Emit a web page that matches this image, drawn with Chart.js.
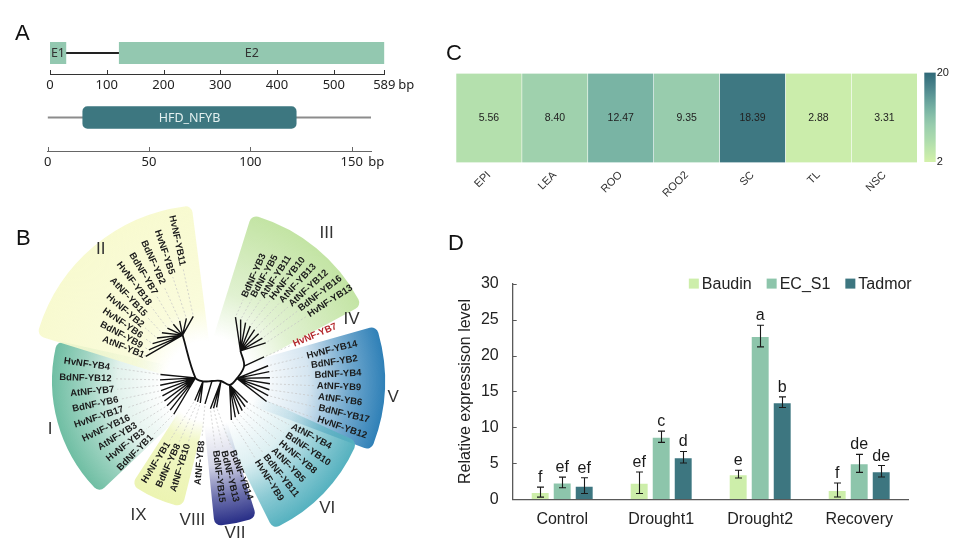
<!DOCTYPE html>
<html>
<head>
<meta charset="utf-8">
<title>NF-YB figure</title>
<script src="https://cdn.jsdelivr.net/npm/chart.js@4.4.1/dist/chart.umd.min.js"></script>
<style>
  html, body { margin: 0; padding: 0; background: #fff; }
  #fig { position: relative; width: 966px; height: 546px; overflow: hidden; font-family: 'Liberation Sans', Arial, sans-serif; }
  .panel { position: absolute; }
  .tag { position: absolute; font-size: 22px; line-height: 22px; color: #111; }
</style>
</head>
<body>
<div id="fig">
  <div class="panel" style="left:0;top:200px;width:440px;height:346px"><canvas id="treeChart"></canvas></div>
  <div class="panel" style="left:0;top:30px;width:430px;height:65px"><canvas id="geneChart"></canvas></div>
  <div class="panel" style="left:0;top:80px;width:430px;height:92px"><canvas id="protChart"></canvas></div>
  <div class="panel" style="left:440px;top:60px;width:490px;height:150px"><canvas id="heatChart"></canvas></div>
  <div class="panel" style="left:910px;top:60px;width:56px;height:115px"><canvas id="scaleBar"></canvas></div>
  <div class="panel" style="left:440px;top:260px;width:526px;height:286px"><canvas id="exprChart"></canvas></div>
  <div class="tag" style="left:15px;top:22px">A</div>
  <div class="tag" style="left:16px;top:227px">B</div>
  <div class="tag" style="left:446px;top:42px">C</div>
  <div class="tag" style="left:448px;top:232px">D</div>
</div>
<script>
// ---- datos ----
// A: estructura del gen y proteína
const geneTicks = [0, 100, 200, 300, 400, 500, 589];
const exon1 = [0, 28];
const intron1 = [28, 122];
const exon2 = [122, 589];
const exonNames = ['E1', 'E2'];
const protTicks = [0, 50, 100, 150];
const protein = [0, 159.5];
const hfdDomain = [17.3, 122.6];
const domainName = 'HFD_NFYB';

// B: clados del árbol
const cladeI = ['HvNF-YB4', 'BdNF-YB12', 'AtNF-YB7', 'BdNF-YB6', 'HvNF-YB17', 'HvNF-YB16', 'AtNF-YB3', 'HvNF-YB3', 'BdNF-YB1'];
const cladeII = ['HvNF-YB11', 'HvNF-YB5', 'BdNF-YB2', 'BdNF-YB7', 'HvNF-YB18', 'AtNF-YB15', 'HvNF-YB2', 'HvNF-YB6', 'BdNF-YB9', 'AtNF-YB1'];
const cladeIII = ['HvNF-YB13', 'BdNF-YB16', 'AtNF-YB12', 'AtNF-YB13', 'HvNF-YB10', 'AtNF-YB11', 'BdNF-YB5', 'BdNF-YB3'];
const cladeIV = ['HvNF-YB7'];
const cladeV = ['HvNF-YB12', 'BdNF-YB17', 'AtNF-YB6', 'AtNF-YB9', 'BdNF-YB4', 'BdNF-YB2', 'HvNF-YB14'];
const cladeVI = ['HvNF-YB9', 'BdNF-YB11', 'AtNF-YB5', 'HvNF-YB8', 'BdNF-YB10', 'AtNF-YB4'];
const cladeVII = ['BdNF-YB15', 'BdNF-YB13', 'BdNF-YB14'];
const cladeVIII = ['AtNF-YB8'];
const cladeIX = ['HvNF-YB1', 'BdNF-YB8', 'AtNF-YB10'];
const highlightLeaf = 'HvNF-YB7';

// C: expresión por tejido
const tissues = ['EPI', 'LEA', 'ROO', 'ROO2', 'SC', 'TL', 'NSC'];
const tissueExpr = [5.56, 8.40, 12.47, 9.35, 18.39, 2.88, 3.31];
const scaleTicks = [2, 20];

// D: expresión relativa bajo sequía
const conditions = ['Control', 'Drought1', 'Drought2', 'Recovery'];
const baudin = [1.0, 2.3, 3.5, 1.3];
const baudinErr = [0.7, 1.5, 0.53, 0.97];
const baudinSig = ['f', 'ef', 'e', 'f'];
const ecS1 = [2.35, 8.7, 22.7, 5.0];
const ecS1Err = [0.74, 0.78, 1.5, 1.25];
const ecS1Sig = ['ef', 'c', 'a', 'de'];
const tadmor = [1.9, 5.85, 13.5, 3.9];
const tadmorErr = [1.1, 0.8, 0.74, 0.8];
const tadmorSig = ['ef', 'd', 'b', 'de'];
const exprTicks = [0, 5, 10, 15, 20, 25, 30];

// ---- estilos ----
const FONT = "'Liberation Sans', Arial, sans-serif";
const FONT_A = "'Noto Sans', 'Liberation Sans', sans-serif";
const heatStops = [[2, '#d3f1aa'], [6, '#b0dead'], [10, '#93c9ad'], [13, '#74b0a2'], [16, '#558f92'], [20, '#2f6878']];

Chart.defaults.font.family = FONT;
Chart.defaults.color = '#222';
Chart.defaults.animation = false;
Chart.defaults.maintainAspectRatio = false;
Chart.defaults.plugins.legend.display = false;
Chart.defaults.plugins.tooltip.enabled = false;

function hexRgb(h) {
  return [1, 3, 5].map(i => parseInt(h.slice(i, i + 2), 16));
}
function heatColor(v) {
  for (let k = 1; k < heatStops.length; k++) {
    const [v0, c0] = heatStops[k - 1], [v1, c1] = heatStops[k];
    if (v <= v1 || k === heatStops.length - 1) {
      const t = Math.max(0, Math.min(1, (v - v0) / (v1 - v0)));
      const a = hexRgb(c0), b = hexRgb(c1);
      return 'rgb(' + a.map((x, i) => Math.round(x + (b[i] - x) * t)).join(',') + ')';
    }
  }
}
function rgba(hex, a) {
  return 'rgba(' + hexRgb(hex).join(',') + ',' + a + ')';
}

// ===== Panel A =====
const axisDecor = {
  id: 'axisDecor',
  afterDraw(chart, args, opts) {
    const x = chart.scales.x, ctx = chart.ctx;
    ctx.save();
    ctx.strokeStyle = opts.axisColor;
    ctx.lineWidth = 1;
    x.ticks.forEach(t => {
      const px = Math.round(x.getPixelForValue(t.value)) + 0.5;
      ctx.beginPath(); ctx.moveTo(px, x.top); ctx.lineTo(px, x.top - 4); ctx.stroke();
    });
    ctx.fillStyle = '#222';
    ctx.font = '13px ' + FONT_A;
    ctx.textBaseline = 'middle';
    ctx.textAlign = 'left';
    ctx.fillText('bp', x.getPixelForValue(opts.lastTick) + opts.unitGap, x.top + 11);
    ctx.textAlign = 'center';
    opts.boxLabels.forEach(b => {
      const el = chart.getDatasetMeta(b.ds).data[0];
      ctx.fillStyle = b.color;
      ctx.font = '12.5px ' + FONT_A;
      ctx.fillText(b.text, (el.x + el.base) / 2, el.y + 0.5);
    });
    ctx.restore();
  }
};

function aAxis(max, ticks, color) {
  return {
    type: 'linear', min: 0, max: max,
    grid: { display: false, drawTicks: false },
    border: { display: true, color: color, width: 1 },
    ticks: { autoSkip: false, maxRotation: 0, padding: 3, color: '#222', font: { family: FONT_A, size: 13 } },
    afterBuildTicks: s => { s.ticks = ticks.map(v => ({ value: v })); },
    afterFit: s => { s.height = 21; }
  };
}

new Chart(document.getElementById('geneChart'), {
  type: 'bar',
  data: {
    labels: ['gene'],
    datasets: [
      { label: exonNames[0], data: [exon1], backgroundColor: '#93c8b0', barThickness: 21.3, grouped: false, order: 1 },
      { label: exonNames[1], data: [exon2], backgroundColor: '#93c8b0', barThickness: 21.3, grouped: false, order: 1 },
      { label: 'intron', data: [intron1], backgroundColor: '#222', barThickness: 1.4, grouped: false, order: 2 }
    ]
  },
  options: {
    indexAxis: 'y',
    layout: { padding: { left: 50, right: 45.7, top: 2, bottom: 0 } },
    scales: { x: aAxis(589, geneTicks, '#333'), y: { display: false } },
    plugins: {
      axisDecor: { axisColor: '#333', lastTick: 589, unitGap: 14,
        boxLabels: [{ ds: 0, text: exonNames[0], color: '#333' }, { ds: 1, text: exonNames[1], color: '#333' }] }
    }
  },
  plugins: [axisDecor]
});

new Chart(document.getElementById('protChart'), {
  type: 'bar',
  data: {
    labels: ['protein'],
    datasets: [
      { label: domainName, data: [hfdDomain], backgroundColor: '#3d7780', barThickness: 21.6, borderRadius: 5, borderSkipped: false, grouped: false, order: 1 },
      { label: 'protein', data: [protein], backgroundColor: '#8c8c8c', barThickness: 1.5, grouped: false, order: 2 }
    ]
  },
  options: {
    indexAxis: 'y',
    layout: { padding: { left: 47.7, right: 59, top: 4, bottom: 0 } },
    scales: { x: aAxis(159.5, protTicks, '#666'), y: { display: false } },
    plugins: {
      axisDecor: { axisColor: '#666', lastTick: 150, unitGap: 16.6,
        boxLabels: [{ ds: 0, text: domainName, color: '#e3f0ef' }] }
    }
  },
  plugins: [axisDecor]
});

// ===== Panel B =====
const cladeLeaves = { I: cladeI, II: cladeII, III: cladeIII, IV: cladeIV, V: cladeV, VI: cladeVI, VII: cladeVII, VIII: cladeVIII, IX: cladeIX };
const backboneOrder = ['II', 'I', 'IX', 'VIII', 'VII', 'VI', 'V', 'IV', 'III'];
// ángulos (grados) de las hojas, nodo del clado [ángulo, radio], radio de punta y de etiqueta
const treeLayout = {
  I:    { a0: 172, a1: 225, node: [165, 12], tip: 47, lab0: 98, lab1: 78 },
  II:   { a0: 102, a1: 158, node: [118, 52], tip: 66, lab0: 118, lab1: 68 },
  III:  { a0: 33,  a1: 66,  node: [42, 45],  tip: 70, lab0: 121, lab1: 92 },
  IV:   { a0: 23,  a1: 23,  node: [22, 40],  tip: 62, lab0: 94, lab1: 94 },
  V:    { a0: 341, a1: 374, node: [5, 30],   tip: 63, lab0: 117, lab1: 103 },
  VI:   { a0: 302, a1: 332, node: [350, 23], tip: 46, lab0: 94, lab1: 96 },
  VII:  { a0: 277, a1: 290, node: [0, 14],   tip: 28, lab0: 70, lab1: 74 },
  VIII: { a0: 265, a1: 265, node: [0, 5],    tip: 23, lab0: 60, lab1: 60 },
  IX:   { a0: 238, a1: 253, node: [185, 4],  tip: 23, lab0: 73, lab1: 66 }
};
const softFade = [[0, 0], [0.4, 0.2], [0.72, 0.68], [1, 1]];
const paleFade = [[0, 0], [0.25, 0.75], [1, 1]];
const midFade = [[0, 0], [0.35, 0.5], [1, 1]];
const cladeShade = {
  I:   { a0: 165, a1: 226, r0: 45, r1: 155, color: '#6fbea3', fade: softFade },
  II:  { a0: 95,  a1: 165, r0: 40, r1: 176, color: '#f8fad0', fade: paleFade },
  III: { a0: 26,  a1: 75,  r0: 45, r1: 172, color: '#c3e4a4', fade: midFade },
  V:   { a0: -23, a1: 18,  r0: 50, r1: 178, color: '#2f80b7', fade: softFade },
  VI:  { a0: 294, a1: 338, r0: 45, r1: 162, color: '#55b1bf', fade: softFade },
  VII: { a0: 273, a1: 290, r0: 45, r1: 145, color: '#272d86', fade: softFade },
  IX:  { a0: 234, a1: 259, r0: 40, r1: 128, color: '#ecf4b2', fade: paleFade }
};
const numeralPos = { I: [197, 164], II: [129, 169], III: [51, 190], IV: [23, 157], V: [-5, 187], VI: [-46.6, 175], VII: [-79.6, 155], VIII: [264, 140], IX: [243, 151] };

const rad = d => d * Math.PI / 180;
const polar = (a, r) => ({ x: r * Math.cos(rad(a)), y: r * Math.sin(rad(a)) });
function leafAngle(name, i) {
  const L = treeLayout[name], n = cladeLeaves[name].length;
  return n === 1 ? L.a0 : L.a0 + (L.a1 - L.a0) * i / (n - 1);
}
function labelRadius(name, i) {
  const L = treeLayout[name], n = cladeLeaves[name].length;
  return n === 1 ? L.lab0 : L.lab0 + (L.lab1 - L.lab0) * i / (n - 1);
}

const GAP = { x: null, y: null };
const branchPts = [], leaderPts = [], spinePts = [];
backboneOrder.forEach(name => {
  const L = treeLayout[name];
  const node = polar(L.node[0], L.node[1]);
  spinePts.push(node);
  cladeLeaves[name].forEach((leaf, i) => {
    const a = leafAngle(name, i);
    branchPts.push(node, polar(a, L.tip), GAP);
    leaderPts.push(polar(a, L.tip + 2), polar(a, labelRadius(name, i) - 3), GAP);
  });
});

const treeDecor = {
  id: 'treeDecor',
  beforeDatasetsDraw(chart) {
    const { ctx, canvas, scales: { x, y } } = chart;
    const cx = x.getPixelForValue(0), cy = y.getPixelForValue(0);
    const k = x.getPixelForValue(1) - cx;
    const off = document.createElement('canvas');
    off.width = canvas.width; off.height = canvas.height;
    const o = off.getContext('2d');
    const m = ctx.getTransform();
    Object.values(cladeShade).forEach(s => {
      const rr = 7;
      const R = (s.r1 - rr) * k, r0 = s.r0 * k;
      const d = (rr / s.r1) * 180 / Math.PI;
      o.setTransform(1, 0, 0, 1, 0, 0);
      o.globalCompositeOperation = 'source-over';
      o.clearRect(0, 0, off.width, off.height);
      o.setTransform(m);
      // forma con esquinas redondeadas
      o.beginPath();
      o.arc(cx, cy, R, -rad(s.a0 + d), -rad(s.a1 - d), true);
      o.arc(cx, cy, r0, -rad(s.a1 - d), -rad(s.a0 + d), false);
      o.closePath();
      o.fillStyle = '#000';
      o.strokeStyle = '#000';
      o.lineWidth = rr * 2;
      o.lineJoin = 'round';
      o.fill();
      o.stroke();
      // degradado radial dentro de la forma
      const g = o.createRadialGradient(cx, cy, r0, cx, cy, s.r1 * k);
      s.fade.forEach(([t, a]) => g.addColorStop(t, rgba(s.color, a)));
      o.globalCompositeOperation = 'source-in';
      o.fillStyle = g;
      o.fillRect(0, 0, chart.width, chart.height);
      ctx.save();
      ctx.setTransform(1, 0, 0, 1, 0, 0);
      ctx.drawImage(off, 0, 0);
      ctx.restore();
    });
  },
  afterDatasetsDraw(chart) {
    const { ctx, scales: { x, y } } = chart;
    const px = p => ({ x: x.getPixelForValue(p.x), y: y.getPixelForValue(p.y) });
    ctx.save();
    ctx.font = 'bold 9.5px ' + FONT;
    ctx.textBaseline = 'middle';
    Object.keys(cladeLeaves).forEach(name => {
      cladeLeaves[name].forEach((leaf, i) => {
        const a = leafAngle(name, i);
        const an = ((a % 360) + 360) % 360;
        const p = px(polar(a, labelRadius(name, i)));
        ctx.save();
        ctx.translate(p.x, p.y);
        if (an > 90 && an < 270) { ctx.rotate(-rad(a) + Math.PI); ctx.textAlign = 'right'; }
        else { ctx.rotate(-rad(a)); ctx.textAlign = 'left'; }
        ctx.fillStyle = leaf === highlightLeaf ? '#b3262a' : '#1b1b1b';
        ctx.fillText(leaf, 0, 0);
        ctx.restore();
      });
    });
    ctx.font = '17px ' + FONT;
    ctx.fillStyle = '#333';
    ctx.textAlign = 'center';
    Object.keys(numeralPos).forEach(name => {
      const [a, r] = numeralPos[name];
      const p = px(polar(a, r));
      ctx.fillText(name, p.x, p.y);
    });
    ctx.restore();
  }
};

new Chart(document.getElementById('treeChart'), {
  type: 'scatter',
  data: {
    datasets: [
      { data: spinePts, showLine: true, tension: 0.35, borderColor: '#111', borderWidth: 1.8, pointRadius: 0, order: 1 },
      { data: branchPts, showLine: true, borderColor: '#111', borderWidth: 1.4, pointRadius: 0, order: 1 },
      { data: leaderPts, showLine: true, borderColor: '#c4c4c4', borderWidth: 0.7, borderDash: [2, 2], pointRadius: 0, order: 3 }
    ]
  },
  options: {
    layout: { padding: 0 },
    scales: {
      x: { type: 'linear', min: -207, max: 233, display: false },
      y: { type: 'linear', min: -165, max: 181, display: false }
    }
  },
  plugins: [treeDecor]
});

// ===== Panel C =====
const heatLabels = {
  id: 'heatLabels',
  afterDatasetsDraw(chart) {
    const ctx = chart.ctx;
    ctx.save();
    ctx.font = '10.5px ' + FONT;
    ctx.fillStyle = '#222';
    ctx.textAlign = 'center';
    ctx.textBaseline = 'middle';
    chart.getDatasetMeta(0).data.forEach((el, i) => {
      ctx.fillText(tissueExpr[i].toFixed(2), el.x, (el.y + el.base) / 2);
    });
    ctx.restore();
  }
};

new Chart(document.getElementById('heatChart'), {
  type: 'bar',
  data: {
    labels: tissues,
    datasets: [{
      data: tissueExpr.map(() => [0, 1]),
      backgroundColor: tissueExpr.map(heatColor),
      borderColor: 'rgba(255,255,255,0.35)',
      borderWidth: 0.6,
      borderSkipped: false,
      categoryPercentage: 1,
      barPercentage: 1
    }]
  },
  options: {
    layout: { padding: { left: 16, right: 12.7, top: 13.3, bottom: 0 } },
    scales: {
      x: {
        grid: { display: false, drawTicks: false },
        border: { display: false },
        ticks: { minRotation: 45, maxRotation: 45, padding: 6, color: '#333', font: { size: 11 } },
        afterFit: s => { s.height = 47.3; }
      },
      y: { display: false, min: 0, max: 1 }
    }
  },
  plugins: [heatLabels]
});

new Chart(document.getElementById('scaleBar'), {
  type: 'bar',
  data: {
    labels: [''],
    datasets: [{
      data: [[scaleTicks[0], scaleTicks[1]]],
      categoryPercentage: 1,
      barPercentage: 1,
      backgroundColor: ctx => {
        const c = ctx.chart;
        if (!c.chartArea) return '#9cc';
        const ys = c.scales.y;
        const g = c.ctx.createLinearGradient(0, ys.getPixelForValue(scaleTicks[0]), 0, ys.getPixelForValue(scaleTicks[1]));
        for (let k = 0; k <= 12; k++) {
          g.addColorStop(k / 12, heatColor(scaleTicks[0] + (scaleTicks[1] - scaleTicks[0]) * k / 12));
        }
        return g;
      }
    }]
  },
  options: {
    layout: { padding: { left: 14.3, top: 12.5, bottom: 13, right: 0 } },
    scales: {
      x: { display: false },
      y: {
        position: 'right', min: scaleTicks[0], max: scaleTicks[1],
        grid: { display: false, drawTicks: false },
        border: { display: false },
        ticks: { padding: 1, color: '#222', font: { size: 11 } },
        afterBuildTicks: s => { s.ticks = scaleTicks.map(v => ({ value: v })); },
        afterFit: s => { s.width = 30.3; }
      }
    }
  }
});

// ===== Panel D =====
const exprDecor = {
  id: 'exprDecor',
  afterDatasetsDraw(chart) {
    const { ctx, chartArea, scales: { x, y } } = chart;
    ctx.save();
    // marcas hacia dentro en el eje Y
    ctx.strokeStyle = '#595959';
    ctx.lineWidth = 1;
    exprTicks.forEach(v => {
      const py = Math.round(y.getPixelForValue(v)) + 0.5;
      ctx.beginPath(); ctx.moveTo(chartArea.left, py); ctx.lineTo(chartArea.left + 4, py); ctx.stroke();
    });
    // barras de error y letras
    ctx.font = '16px ' + FONT;
    ctx.textAlign = 'center';
    ctx.textBaseline = 'alphabetic';
    chart.data.datasets.forEach((ds, i) => {
      chart.getDatasetMeta(i).data.forEach((bar, j) => {
        const v = ds.data[j], e = ds.errors[j];
        const top = y.getPixelForValue(v + e), bot = y.getPixelForValue(v - e);
        const bx = Math.round(bar.x) + 0.5;
        ctx.strokeStyle = '#1a1a1a';
        ctx.lineWidth = 1.1;
        ctx.beginPath();
        ctx.moveTo(bx, top); ctx.lineTo(bx, bot);
        ctx.moveTo(bx - 3.5, top); ctx.lineTo(bx + 3.5, top);
        ctx.moveTo(bx - 3.5, bot); ctx.lineTo(bx + 3.5, bot);
        ctx.stroke();
        ctx.fillStyle = '#1a1a1a';
        ctx.fillText(ds.letters[j], bar.x, top - 5);
      });
    });
    // leyenda
    ctx.font = '16px ' + FONT;
    ctx.textAlign = 'left';
    ctx.textBaseline = 'middle';
    const items = chart.data.datasets.map(ds => ({ label: ds.label, color: ds.backgroundColor, w: ctx.measureText(ds.label).width }));
    const total = items.reduce((s, it) => s + 10 + 3 + it.w, 0) + 15 * (items.length - 1);
    let lx = chartArea.right + 3 - total;
    const ly = chartArea.top;
    items.forEach(it => {
      ctx.fillStyle = it.color;
      ctx.fillRect(lx, ly - 5, 10, 10);
      ctx.fillStyle = '#222';
      ctx.fillText(it.label, lx + 13, ly + 0.5);
      lx += 10 + 3 + it.w + 15;
    });
    ctx.restore();
  }
};

const barStyle = { categoryPercentage: 0.667, barPercentage: 0.86, borderColor: 'rgba(255,255,255,0.75)', borderWidth: 1 };

new Chart(document.getElementById('exprChart'), {
  type: 'bar',
  data: {
    labels: conditions,
    datasets: [
      Object.assign({ label: 'Baudin', data: baudin, errors: baudinErr, letters: baudinSig, backgroundColor: '#cdeeaa' }, barStyle),
      Object.assign({ label: 'EC_S1', data: ecS1, errors: ecS1Err, letters: ecS1Sig, backgroundColor: '#8dc5ab' }, barStyle),
      Object.assign({ label: 'Tadmor', data: tadmor, errors: tadmorErr, letters: tadmorSig, backgroundColor: '#3d7680' }, barStyle)
    ]
  },
  options: {
    layout: { padding: { left: 0, right: 57.3, top: 22.3, bottom: 0 } },
    scales: {
      x: {
        grid: { display: false, drawTicks: false },
        border: { display: true, color: '#595959', width: 1.3 },
        ticks: { padding: 11, color: '#222', font: { size: 16 } },
        afterFit: s => { s.height = 46.7; }
      },
      y: {
        min: 0, max: 30,
        grid: { display: false, drawTicks: false },
        border: { display: true, color: '#595959', width: 1.3 },
        ticks: { stepSize: 5, padding: 14, color: '#222', font: { size: 16 } },
        title: { display: true, text: 'Relative expressison level', color: '#222', font: { size: 16 }, padding: { top: 16, bottom: 0 } },
        afterFit: s => { s.width = 72.7; }
      }
    }
  },
  plugins: [exprDecor]
});
</script>
</body>
</html>
